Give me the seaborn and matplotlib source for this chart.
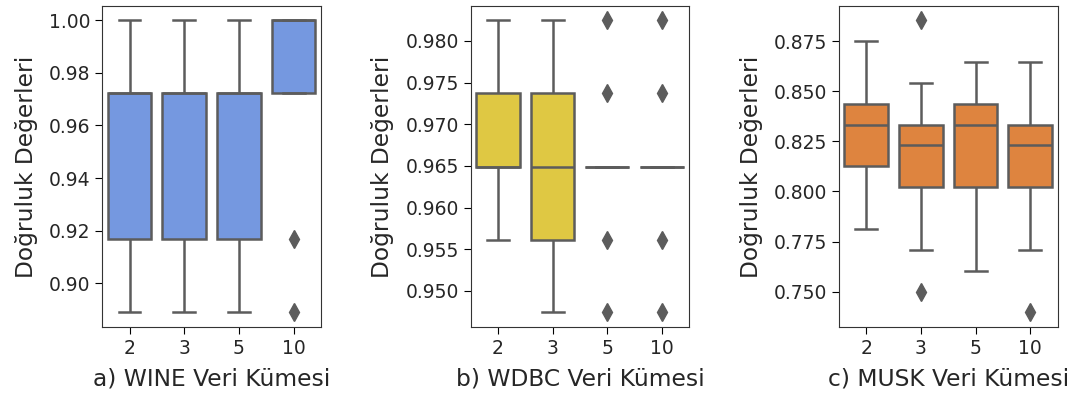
import seaborn as sns
import matplotlib.pyplot as plt
import pandas as pd

# fold counts on the x axis
folds = ['2', '3', '5', '10']

# accuracy values per fold count (WINE)
wine_2 = [0.8889, 0.9167, 0.9167, 0.9444, 0.9722, 0.9722, 0.9722, 1.0, 1.0]
wine_3 = [0.8889, 0.9167, 0.9167, 0.9444, 0.9722, 0.9722, 0.9722, 1.0, 1.0]
wine_5 = [0.8889, 0.9167, 0.9167, 0.9444, 0.9722, 0.9722, 0.9722, 1.0, 1.0]
wine_10 = [0.8889, 0.9167, 0.9722, 0.9722, 1.0, 1.0, 1.0, 1.0, 1.0]

# WDBC
wdbc_2 = [0.9561, 0.9649, 0.9649, 0.9649, 0.9649, 0.9737, 0.9737, 0.9737, 0.9825]
wdbc_3 = [0.9474, 0.9561, 0.9561, 0.9649, 0.9649, 0.9737, 0.9737, 0.9825, 0.9825]
wdbc_5 = [0.9474, 0.9561, 0.9649, 0.9649, 0.9649, 0.9649, 0.9649, 0.9737, 0.9825]
wdbc_10 = [0.9474, 0.9561, 0.9649, 0.9649, 0.9649, 0.9649, 0.9649, 0.9737, 0.9825]

# MUSK
musk_2 = [0.7813, 0.8021, 0.8125, 0.8229, 0.8333, 0.8333, 0.8438, 0.8542, 0.8750]
musk_3 = [0.7500, 0.7708, 0.8021, 0.8125, 0.8229, 0.8333, 0.8333, 0.8542, 0.8854]
musk_5 = [0.7604, 0.7917, 0.8021, 0.8125, 0.8333, 0.8333, 0.8438, 0.8542, 0.8646]
musk_10 = [0.7396, 0.7708, 0.8021, 0.8125, 0.8229, 0.8333, 0.8333, 0.8438, 0.8646]


def long_df(groups):
    rows = []
    for k, vals in zip(folds, groups):
        for v in vals:
            rows.append({'k': k, 'acc': v})
    return pd.DataFrame(rows)


panels = [
    (long_df([wine_2, wine_3, wine_5, wine_10]), '#7598e0', 'a) WINE Veri Kümesi'),
    (long_df([wdbc_2, wdbc_3, wdbc_5, wdbc_10]), '#dfc843', 'b) WDBC Veri Kümesi'),
    (long_df([musk_2, musk_3, musk_5, musk_10]), '#de843f', 'c) MUSK Veri Kümesi'),
]

plt.rcParams['font.family'] = ['DejaVu Sans']
fig, axes = plt.subplots(1, 3, figsize=(10.87, 3.96), dpi=100)
fig.subplots_adjust(left=0.094, right=0.973, top=0.986, bottom=0.174, wspace=0.684)

gray = '#5c5c5c'
for ax, (df, col, title) in zip(axes, panels):
    sns.boxplot(data=df, x='k', y='acc', order=folds, color=col, saturation=1,
                width=0.8, linewidth=1.8, linecolor=gray, ax=ax,
                flierprops=dict(marker='d', markersize=9, markerfacecolor=gray,
                                markeredgecolor=gray))
    ax.set_xlabel(title, fontsize=16.8, labelpad=7, color='#262626')
    ax.set_ylabel('Doğruluk Değerleri', fontsize=16.8, labelpad=8, color='#262626')
    ax.tick_params(labelsize=13.5, length=5, labelcolor='#262626')
    for s in ax.spines.values():
        s.set_color('#333333')

axes[0].set_yticks([0.90, 0.92, 0.94, 0.96, 0.98, 1.00])
axes[1].set_yticks([0.950, 0.955, 0.960, 0.965, 0.970, 0.975, 0.980])
axes[2].set_yticks([0.750, 0.775, 0.800, 0.825, 0.850, 0.875])

plt.savefig('out.png', dpi=100)
